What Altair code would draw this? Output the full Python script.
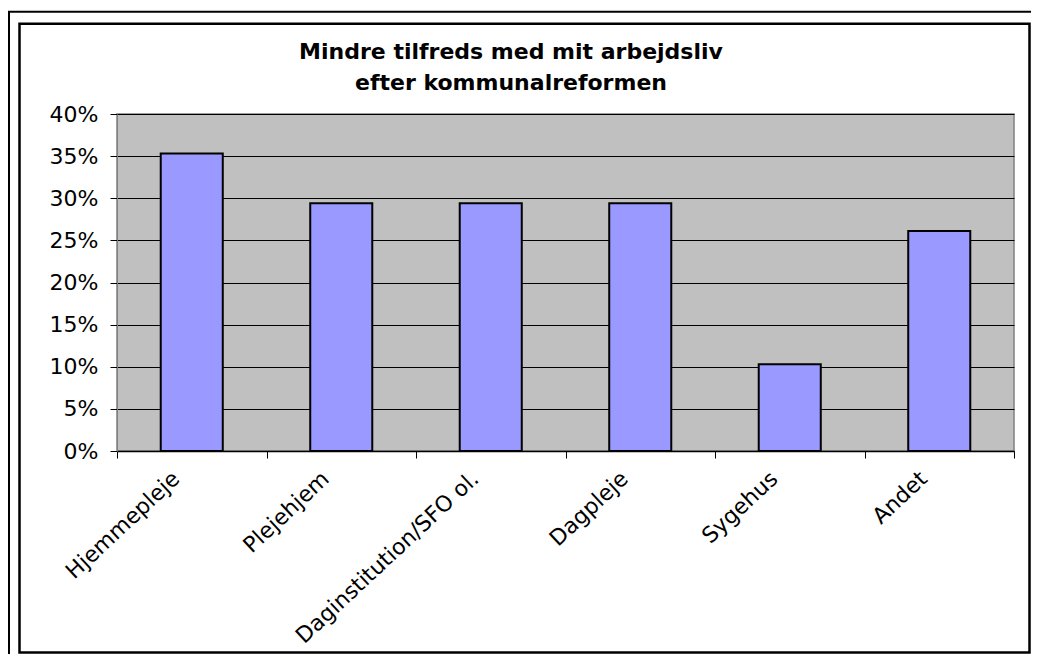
import altair as alt
import pandas as pd

categories = ["Hjemmepleje", "Plejehjem", "Daginstitution/SFO ol.", "Dagpleje", "Sygehus", "Andet"]
values = [0.353, 0.294, 0.294, 0.294, 0.103, 0.261]
y_ticks = [0, 0.05, 0.10, 0.15, 0.20, 0.25, 0.30, 0.35, 0.40]
title_lines = ["Mindre tilfreds med mit arbejdsliv", "efter kommunalreformen"]

df = pd.DataFrame({"kategori": categories, "andel": values})
one = pd.DataFrame({"k": [0]})

W, H = 897, 337
FONT = "DejaVu Sans"

bars = alt.Chart(df).mark_bar(
    color="#9999FF", stroke="black", strokeWidth=2,
    width=alt.RelativeBandSize(0.415)
).encode(
    x=alt.X("kategori:N", sort=categories,
            scale=alt.Scale(paddingInner=0, paddingOuter=0),
            axis=alt.Axis(title=None, labelAngle=-43, labelAlign="right",
                          labelBaseline="middle", labelFontSize=22, labelFont=FONT,
                          labelColor="black", labelPadding=17, labelOffset=-16,
                          tickBand="extent", tickSize=7, tickColor="#000",
                          tickWidth=1, domainColor="#000", domainWidth=1.5,
                          labelLimit=400, grid=False)),
    y=alt.Y("andel:Q", scale=alt.Scale(domain=[0, 0.4], nice=False),
            axis=alt.Axis(title=None, format=".0%", values=y_ticks, grid=True,
                          gridColor="black", gridWidth=1, tickSize=7,
                          tickColor="#000", tickWidth=1, domainColor="#808080",
                          labelFontSize=22, labelFont=FONT, labelColor="black",
                          labelPadding=12))
)

title_text = alt.Chart(one).mark_text(
    text=title_lines, font=FONT, fontSize=22, fontWeight="bold", color="black",
    align="center", baseline="alphabetic", lineHeight=31
).encode(x=alt.value(394), y=alt.value(-55))

inner_frame = alt.Chart(one).mark_rect(
    fill="white", fillOpacity=0, stroke="black", strokeWidth=2.5
).encode(
    x=alt.value(-97.5), x2=alt.value(912.5), y=alt.value(-90.2), y2=alt.value(538.5)
)

outer_top = alt.Chart(one).mark_rule(color="black", strokeWidth=2).encode(
    x=alt.value(-109), x2=alt.value(914), y=alt.value(-102.2)
)
outer_left = alt.Chart(one).mark_rule(color="black", strokeWidth=2).encode(
    x=alt.value(-108), y=alt.value(-102.2), y2=alt.value(540)
)

chart = alt.layer(outer_top, outer_left, inner_frame, title_text, bars).properties(
    width=W, height=H,
    autosize="none",
    padding={"left": 109, "top": 106, "right": 17, "bottom": 203},
    background="white",
).configure_view(fill="#C0C0C0", stroke="#808080", strokeWidth=1.5)

chart.save("out.html", embed_options={"renderer": "svg", "actions": False})
